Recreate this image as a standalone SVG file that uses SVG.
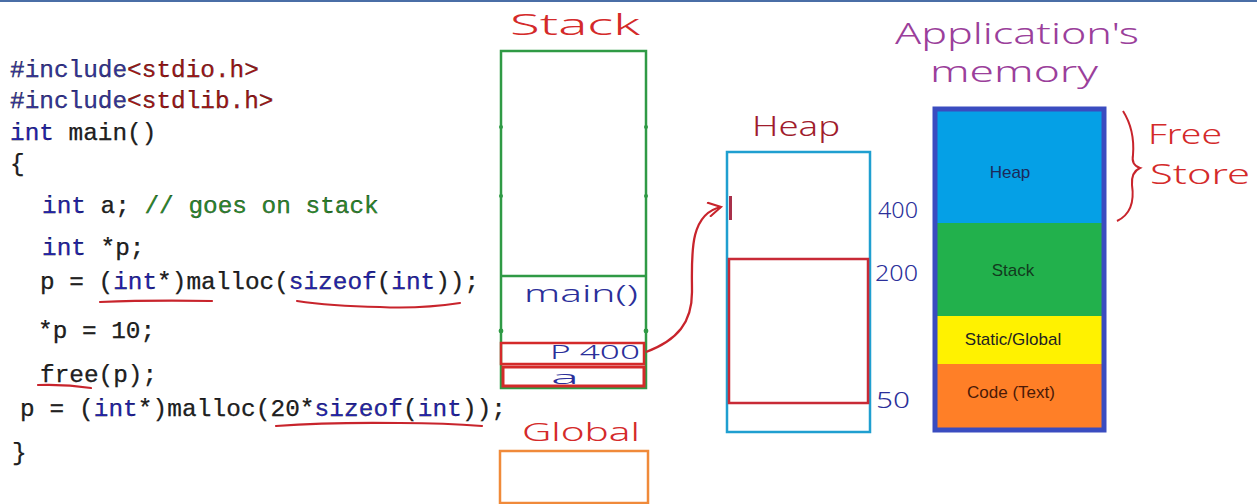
<svg xmlns="http://www.w3.org/2000/svg" width="1257" height="504" viewBox="0 0 1257 504">
  <style>
    .code { font-family: "Liberation Mono", "DejaVu Sans Mono", monospace; font-size: 24.4px; fill: #222; stroke: currentColor; stroke-width: 0.25; }
    .kw { fill: #2323b0; }
    .pp { fill: #34349a; }
    .inc { fill: #a31515; }
    .cm { fill: #2a8a2a; }
    .hand { font-family: "Noto Sans", "DejaVu Sans", sans-serif; font-weight: 300; }
    .red { fill: #d42a2a; }
    .dred { fill: #a01c2c; }
    .blu { fill: #2b2f9a; }
    .pur { fill: #9b3f9b; }
    .seg { font-family: "Liberation Sans", "Open Sans", sans-serif; font-size: 17px; text-anchor: middle; }
    .uline { fill: none; stroke: #c8242c; stroke-width: 2.2; stroke-linecap: round; }
    .tick { fill: #2f9a45; }
  </style>
  <defs>
    <marker id="chev" viewBox="0 0 10 10" refX="9" refY="5" markerWidth="16" markerHeight="16" orient="auto" markerUnits="userSpaceOnUse">
      <path d="M1,0.5 L9,5 L1,9.5" fill="none" stroke="#c8242c" stroke-width="1.3"/>
    </marker>
  </defs>

  <rect x="0" y="0" width="1257" height="504" fill="#ffffff"/>
  <!-- window top border -->
  <rect x="0" y="0" width="1257" height="2" fill="#4a6ea6"/>

  <!-- source listing -->
  <g id="code">
    <text class="code" x="10" y="77"><tspan class="pp">#include</tspan><tspan class="inc">&lt;stdio.h&gt;</tspan></text>
    <text class="code" x="10" y="108"><tspan class="pp">#include</tspan><tspan class="inc">&lt;stdlib.h&gt;</tspan></text>
    <text class="code" x="10" y="140"><tspan class="kw">int</tspan> main()</text>
    <text class="code" x="10" y="171">{</text>
    <text class="code" x="42" y="213"><tspan class="kw">int</tspan> a; <tspan class="cm">// goes on stack</tspan></text>
    <text class="code" x="42" y="255"><tspan class="kw">int</tspan> *p;</text>
    <text class="code" x="40" y="289">p = (<tspan class="kw">int</tspan>*)malloc(<tspan class="kw">sizeof</tspan>(<tspan class="kw">int</tspan>));</text>
    <text class="code" x="38" y="338">*p = 10;</text>
    <text class="code" x="40" y="382">free(p);</text>
    <text class="code" x="20" y="416" textLength="486">p = (<tspan class="kw">int</tspan>*)malloc(20*<tspan class="kw">sizeof</tspan>(<tspan class="kw">int</tspan>));</text>
    <text class="code" x="12" y="460">}</text>
    <!-- hand-drawn underlines -->
    <path class="uline" d="M100,302 Q150,300 212,301"/>
    <path class="uline" d="M297,301 Q330,306 380,307 Q420,309 460,303"/>
    <path class="uline" d="M38,385 Q65,384 91,388"/>
    <path class="uline" d="M276,426 Q330,422 400,423 Q445,423 482,426"/>
  </g>

  <!-- stack frame column -->
  <g id="stack">
    <text class="hand red" x="510" y="35" font-size="30" textLength="130" lengthAdjust="spacingAndGlyphs">Stack</text>
    <rect x="501" y="51" width="145" height="337" fill="none" stroke="#2f9a45" stroke-width="2.5"/>
    <line x1="501" y1="276" x2="646" y2="276" stroke="#2f9a45" stroke-width="2.5"/>
    <circle class="tick" cx="501" cy="127" r="2"/><circle class="tick" cx="646" cy="127" r="2"/>
    <circle class="tick" cx="501" cy="196" r="2"/><circle class="tick" cx="646" cy="196" r="2"/>
    <circle class="tick" cx="501" cy="331" r="2.4"/><circle class="tick" cx="646" cy="331" r="2.4"/>
    <text class="hand blu" x="524" y="302" font-size="24" textLength="114" lengthAdjust="spacingAndGlyphs">main()</text>
  </g>

  <g id="var-p">
    <rect x="501" y="343" width="143" height="21" fill="none" stroke="#d42a2a" stroke-width="2.5"/>
    <text class="hand blu" x="550" y="359" font-size="20" textLength="90" lengthAdjust="spacingAndGlyphs">P 400</text>
  </g>
  <g id="var-a">
    <rect x="503" y="367" width="141" height="19" fill="none" stroke="#d42a2a" stroke-width="3"/>
    <text class="hand blu" x="551" y="384" font-size="18" textLength="28" lengthAdjust="spacingAndGlyphs">a</text>
  </g>

  <g id="global">
    <text class="hand red" x="522" y="441" font-size="26" textLength="118" lengthAdjust="spacingAndGlyphs">Global</text>
    <rect x="500" y="451" width="148" height="52" fill="none" stroke="#f08a3a" stroke-width="2.5"/>
  </g>

  <!-- heap column -->
  <g id="heap">
    <text class="hand dred" x="752" y="136" font-size="28" textLength="88" lengthAdjust="spacingAndGlyphs">Heap</text>
    <rect x="727" y="152" width="143" height="280" fill="none" stroke="#1f9fd0" stroke-width="2.5"/>
    <rect x="729" y="196" width="3" height="24" fill="#a8304a"/>
    <text class="hand blu" x="878" y="218" font-size="21" textLength="40" lengthAdjust="spacingAndGlyphs">400</text>
    <text class="hand blu" x="875" y="281" font-size="21" textLength="43" lengthAdjust="spacingAndGlyphs">200</text>
    <text class="hand blu" x="876" y="408" font-size="21" textLength="34" lengthAdjust="spacingAndGlyphs">50</text>
  </g>
  <g id="block">
    <rect x="729" y="259" width="139" height="144" fill="none" stroke="#c82a36" stroke-width="2.5"/>
  </g>

  <!-- pointer p -> heap block -->
  <g id="connectors">
    <path d="M646,352 C678,340 692,322 692,292 C692,258 688,214 721,207" fill="none" stroke="#c8242c" stroke-width="2.3" marker-end="url(#chev)"/>
  </g>

  <!-- application memory layout -->
  <g id="app-memory">
    <text class="hand pur" x="895" y="44" font-size="30" textLength="244" lengthAdjust="spacingAndGlyphs">Application's</text>
    <text class="hand pur" x="930" y="82" font-size="30" textLength="168" lengthAdjust="spacingAndGlyphs">memory</text>
    <rect x="935" y="109" width="169" height="114" fill="#05a0e6"/>
    <rect x="935" y="223" width="169" height="93" fill="#22b14c"/>
    <rect x="935" y="316" width="169" height="48" fill="#fff200"/>
    <rect x="935" y="364" width="169" height="66" fill="#ff7f27"/>
    <rect x="935" y="109" width="169" height="321" fill="none" stroke="#3a4cc0" stroke-width="5"/>
    <text class="seg" x="1010" y="178" fill="#1c2a5a">Heap</text>
    <text class="seg" x="1013" y="276" fill="#123a1e">Stack</text>
    <text class="seg" x="1013" y="345" fill="#222">Static/Global</text>
    <text class="seg" x="1011" y="398" fill="#4a1a08">Code (Text)</text>
  </g>

  <g id="free-store">
    <path d="M1123,111 Q1135,130 1133,155 Q1131,165 1140,168 Q1131,172 1132,185 Q1136,212 1117,221" fill="none" stroke="#c8242c" stroke-width="2"/>
    <text class="hand red" x="1148" y="144" font-size="28" textLength="74" lengthAdjust="spacingAndGlyphs">Free</text>
    <text class="hand red" x="1150" y="184" font-size="28" textLength="100" lengthAdjust="spacingAndGlyphs">Store</text>
  </g>
</svg>
